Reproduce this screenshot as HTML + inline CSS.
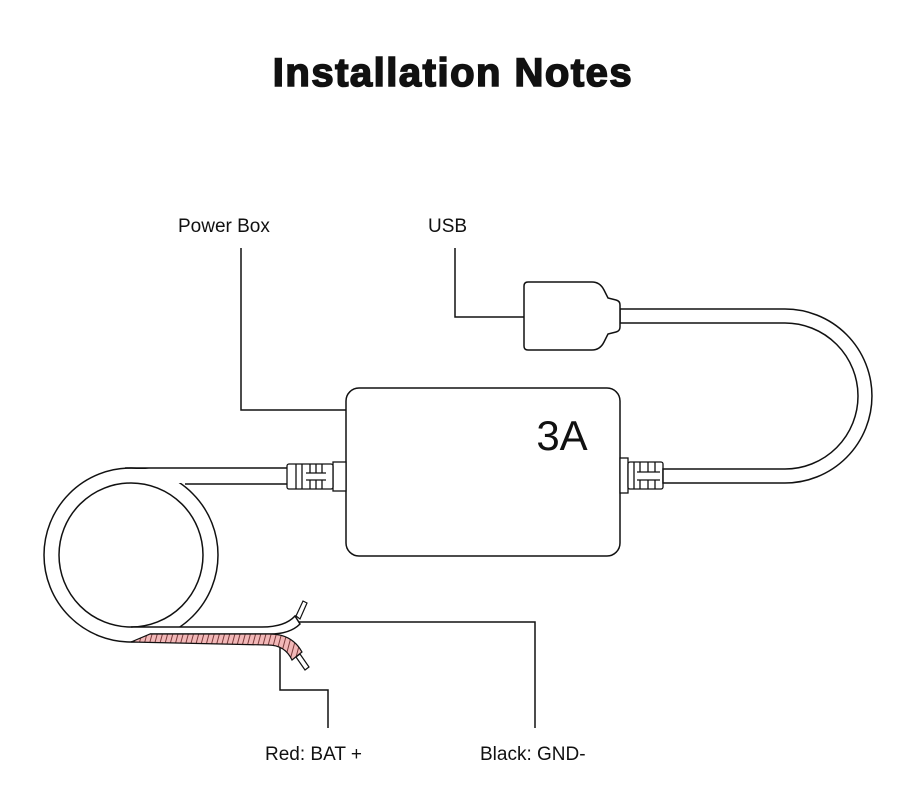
<!DOCTYPE html>
<html><head><meta charset="utf-8"><style>
html,body{margin:0;padding:0;background:#fff;}
svg{display:block}
</style></head><body>
<svg width="910" height="804" viewBox="0 0 910 804" xmlns="http://www.w3.org/2000/svg">
<defs>
<pattern id="hatch" width="5" height="12" patternUnits="userSpaceOnUse" patternTransform="rotate(15)">
<rect width="5" height="12" fill="#f2b8b8"/>
<line x1="1" y1="0" x2="1" y2="12" stroke="#7a3a3a" stroke-width="1"/>
</pattern>
</defs>
<text x="453" y="86" text-anchor="middle" font-family="Liberation Sans, sans-serif" font-weight="bold" font-size="40" fill="#111" stroke="#111" stroke-width="1.6" style="letter-spacing:1.5px">Installation Notes</text>
<g font-family="Liberation Sans, sans-serif" font-size="19" fill="#111">
<text x="178" y="232">Power Box</text>
<text x="428" y="232">USB</text>
<text x="265" y="760">Red: BAT +</text>
<text x="480" y="760">Black: GND-</text>
</g>
<g fill="none" stroke="#111" stroke-width="1.5">
<polyline points="241,248 241,410 346,410"/>
<polyline points="455,248 455,317 524,317"/>
<polyline points="280,646 280,690 328,690 328,728"/>
<polyline points="298,622 535,622 535,728"/>
<circle cx="131" cy="555" r="87" fill="#fff"/>
</g>
<rect x="131" y="469" width="157" height="14" fill="#fff"/>
<g fill="none" stroke="#111" stroke-width="1.5">
<circle cx="131" cy="555" r="72"/>
<line x1="125" y1="468" x2="288" y2="468"/>
<line x1="185" y1="484" x2="288" y2="484"/>
</g>
<path d="M131,627 L262,627 Q285,627 295,616 L300,624 Q290,634 270,634 L150,634" fill="#fff" stroke="#111" stroke-width="1.5"/>
<path d="M150,634 L270,634 Q292,634 302,652 L292,660 Q285,645 268,645 L131,642 Z" fill="url(#hatch)" stroke="#111" stroke-width="1.2"/>
<g stroke="#111" stroke-width="1.2" fill="#fff">
<path d="M296,616 L303,601 L307,603 L300,619 Z"/>
<path d="M296,657 L305,670 L309,667 L300,654 Z"/>
</g>
<rect x="346" y="388" width="274" height="168" rx="13" fill="#fff" stroke="#111" stroke-width="1.5"/>
<text x="562" y="450" text-anchor="middle" font-family="Liberation Sans, sans-serif" font-size="42" fill="#111">3A</text>
<g fill="#fff" stroke="#111" stroke-width="1.3">
<rect x="333" y="462" width="13" height="29"/>
<rect x="287" y="464" width="46" height="25" rx="2"/>
<path d="M296,464 V489 M302,464 V489 M310,464 V473 M310,480 V489 M316,464 V473 M316,480 V489 M322,464 V473 M322,480 V489 M306,473 H326 M306,480 H326" fill="none"/>
</g>
<g fill="#fff" stroke="#111" stroke-width="1.3">
<rect x="620" y="458" width="8" height="35"/>
<rect x="628" y="462" width="35" height="27" rx="2"/>
<path d="M634,462 V489 M640,462 V472 M640,480 V489 M648,462 V472 M648,480 V489 M655,462 V472 M655,480 V489 M637,472 H660 M637,480 H660" fill="none"/>
</g>
<path d="M620,309 L785,309 A87,87 0 0 1 785,483 L663,483 L663,469 L785,469 A73,73 0 0 0 785,323 L620,323 Z" fill="#fff" stroke="#111" stroke-width="1.5"/>
<path d="M528,282 L592,282 Q600,282 604,290 L608,298 L616,300 Q620,301 620,305 L620,327 Q620,331 616,332 L608,334 L604,342 Q600,350 592,350 L528,350 Q524,350 524,346 L524,286 Q524,282 528,282 Z" fill="#fff" stroke="#111" stroke-width="1.5"/>
</svg>
</body></html>
